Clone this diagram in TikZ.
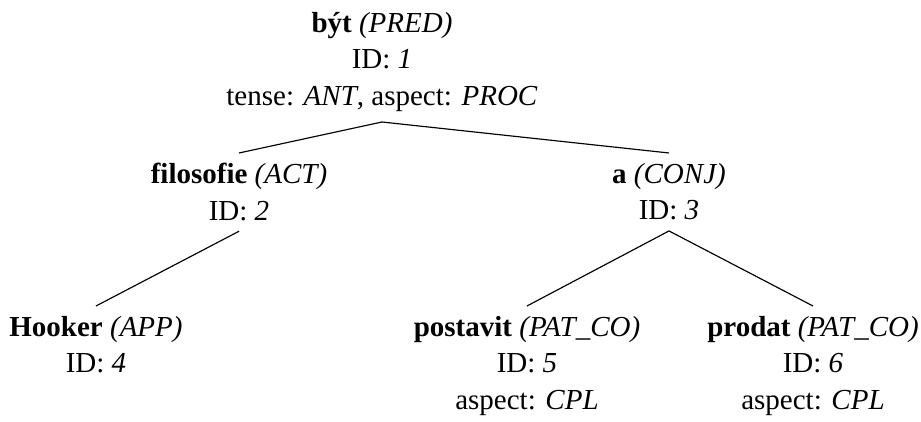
\documentclass[tikz,border=0pt]{standalone}
\usepackage{fontspec}
\setmainfont{Liberation Serif}
\begin{document}
\begin{tikzpicture}[x=0.3448pt, y=-0.3448pt,
    tnode/.style={align=center, anchor=north, inner xsep=0pt, inner ysep=3.45pt,
                  font=\fontsize{10}{12.5}\selectfont}]
    \useasboundingbox (0,0) rectangle (921,422);

    % Draw the root node
    \node[tnode] (byt) at (382, 2) {\textbf{být} \textit{(PRED)}\\ ID: \textit{1}\\ tense: \textit{ANT}, aspect: \textit{PROC}};

    % Draw nodes for the second level
    \node[tnode] (filosofie) at (239, 153) {\textbf{filosofie} \textit{(ACT)}\\ ID: \textit{2}};
    \node[tnode] (a) at (669, 153) {\textbf{a} \textit{(CONJ)}\\ ID: \textit{3}};

    % Draw nodes for the third level
    \node[tnode] (hooker) at (96, 306) {\textbf{Hooker} \textit{(APP)}\\ ID: \textit{4}};
    \node[tnode] (postavit) at (527, 306) {\textbf{postavit} \textit{(PAT\_CO)}\\ ID: \textit{5}\\ aspect: \textit{CPL}};
    \node[tnode] (prodat) at (813, 306) {\textbf{prodat} \textit{(PAT\_CO)}\\ ID: \textit{6}\\ aspect: \textit{CPL}};

    % Draw all edges
    \draw (byt.south) -- (filosofie.north); % Edge between byt and filosofie
    \draw (byt.south) -- (a.north); % Edge between byt and a
    \draw (filosofie.south) -- (hooker.north); % Edge between filosofie and Hooker
    \draw (a.south) -- (postavit.north); % Edge between a and postavit
    \draw (a.south) -- (prodat.north); % Edge between a and prodat
\end{tikzpicture}
\end{document}
